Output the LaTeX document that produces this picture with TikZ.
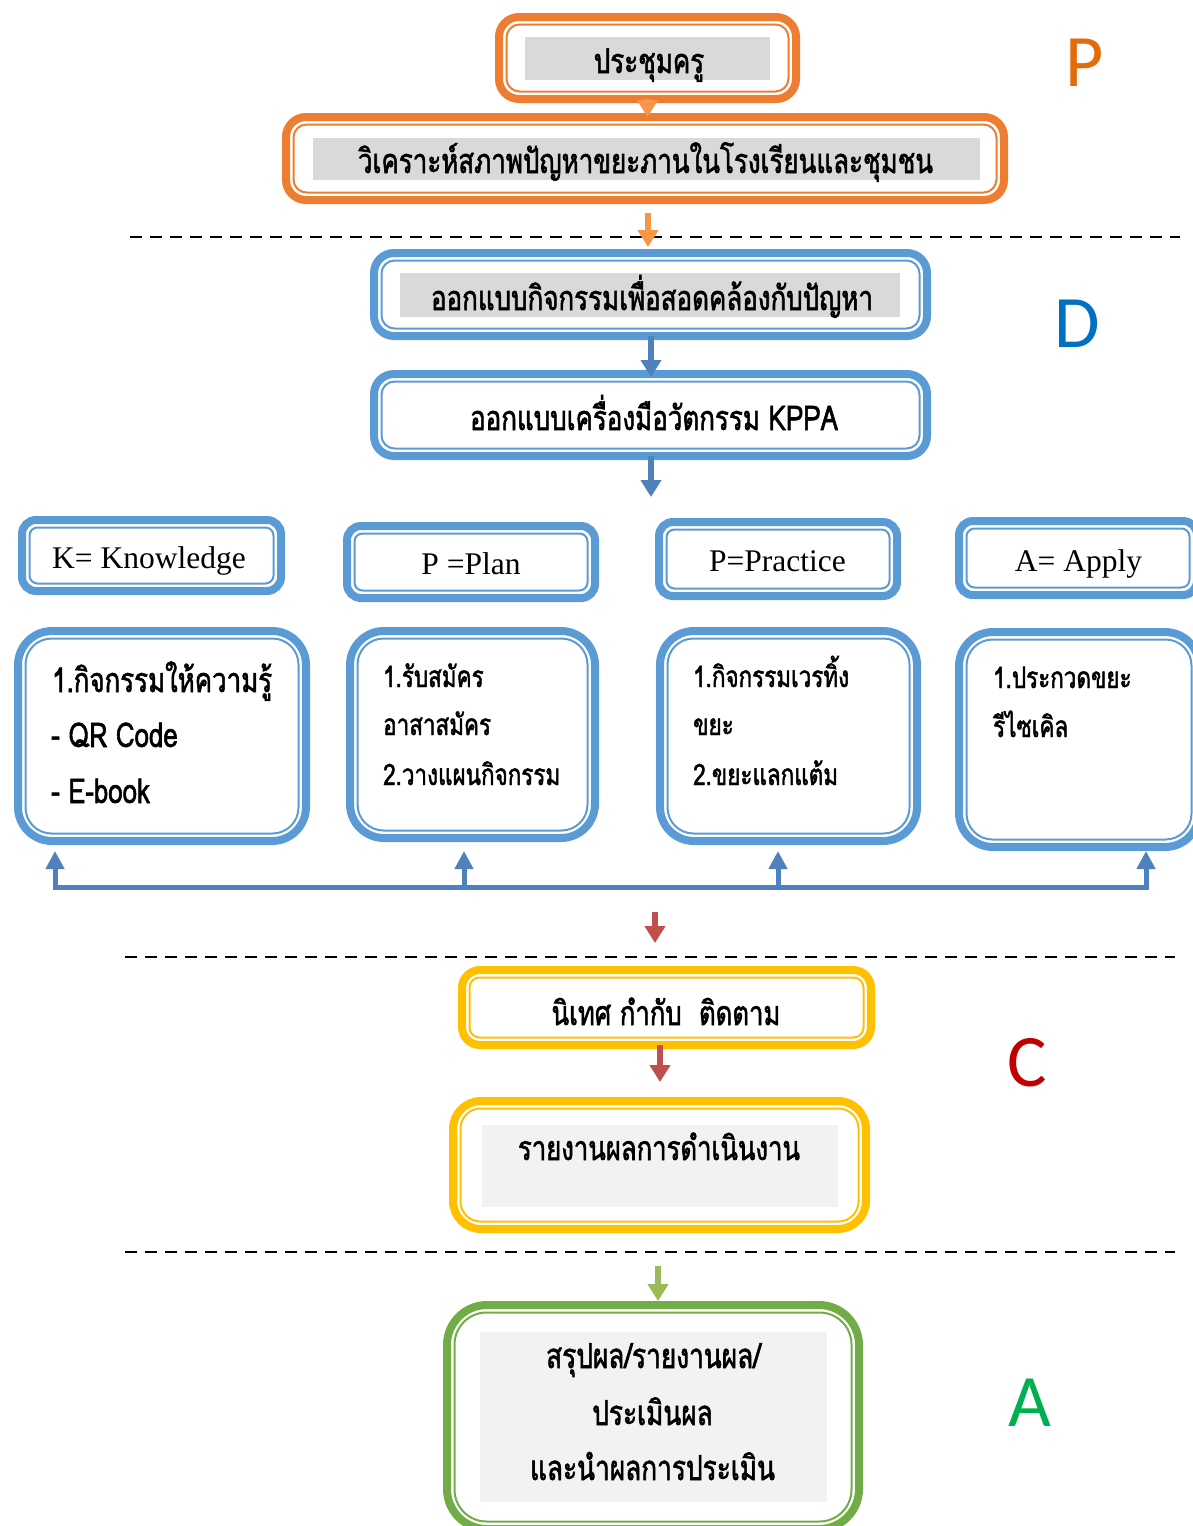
\documentclass[tikz,border=0pt]{standalone}
\usepackage{fontspec}
\usetikzlibrary{arrows.meta}
\newfontfamily\thaifont[Script=Thai,FakeStretch=0.76,FakeBold=1.6]{Loma}
\newfontfamily\serifhd{Liberation Serif}
\newfontfamily\calib{Carlito}
\definecolor{orB}{HTML}{ED7D31}
\definecolor{orA}{HTML}{F79646}
\definecolor{blB}{HTML}{5B9BD5}
\definecolor{blA}{HTML}{4F81BD}
\definecolor{rdA}{HTML}{C0504D}
\definecolor{yeB}{HTML}{FFC000}
\definecolor{grB}{HTML}{70AD47}
\definecolor{grA}{HTML}{9BBB59}
\definecolor{grayA}{HTML}{D9D9D9}
\definecolor{grayB}{HTML}{F2F2F2}
\definecolor{lP}{HTML}{E36C0A}
\definecolor{lD}{HTML}{0070C0}
\definecolor{lC}{HTML}{C00000}
\definecolor{lA}{HTML}{00B050}
\newlength\fitlen
\newcommand\setfit[3]{%
  \settowidth\fitlen{\thaifont\fontsize{20}{24}\selectfont #3}%
  \pgfmathsetmacro#1{20*#2/\fitlen}}
\tikzset{
  dbox/.style n args={3}{draw=#1, line width=8pt, rounded corners=#2, outer sep=0pt, inner sep=0pt,
    append after command={\pgfextra{\draw[draw=#1, line width=2pt, rounded corners=#3]
      ([shift={(7.5pt,-7.5pt)}]\tikzlastnode.north west) rectangle
      ([shift={(-7.5pt,7.5pt)}]\tikzlastnode.south east);}}},
  gbox/.style={fill=#1, draw=none, inner sep=0pt, outer sep=0pt},
  thaitxt/.style={font={\thaifont\fontsize{#1}{#1}\selectfont}, inner sep=0pt, anchor=base},
  thaileft/.style={font={\thaifont\fontsize{#1}{#1}\selectfont}, inner sep=0pt, anchor=base west},
  hdtxt/.style={font={\serifhd\fontsize{31.5}{31.5}\selectfont}, inner sep=0pt, anchor=base},
  bigletter/.style={font={\calib\fontsize{74}{74}\selectfont}, text=#1, inner sep=0pt, anchor=base},
  arr/.style={draw=#1, line width=6pt, -{Triangle[width=20pt,length=17pt]}},
  barr/.style={draw=blA, line width=5pt, -{Triangle[width=18pt,length=18pt]}},
  bline/.style={draw=blA, line width=5pt, line cap=rect},
  sep/.style={draw=black, line width=2.5pt, dash pattern=on 12pt off 8pt},
}
\begin{document}
\setfit\szTop{575}{วิเคราะห์สภาพปัญหาขยะภานในโรงเรียนและชุมชน}%
\setfit\szK{220}{1.กิจกรรมให้ความรู้}%
\setfit\szS{177}{2.วางแผนกิจกรรม}%
\setfit\szC{282}{รายงานผลการดำเนินงาน}%
\setfit\szA{245}{และนำผลการประเมิน}%
\begin{tikzpicture}[x=1pt,y=-1pt]
\useasboundingbox (0,0) rectangle (1193,1526);
\clip (0,0) rectangle (1193,1526);

% ---- P section
\node[dbox={orB}{20pt}{13pt}, minimum width=297pt, minimum height=82pt] (b1) at (647.5,58) {};
\node[gbox=grayA, minimum width=245pt, minimum height=43pt] (g1) at (647.5,58.5) {};
\node[thaitxt=\szTop] (t1) at (649,73) {ประชุมครู};

\node[dbox={orB}{20pt}{13pt}, minimum width=718pt, minimum height=83pt] (b2) at (645,158.5) {};
\node[gbox=grayA, minimum width=667pt, minimum height=42pt] (g2) at (646.5,159) {};
\node[thaitxt=\szTop] (t2) at (645.5,173) {วิเคราะห์สภาพปัญหาขยะภานในโรงเรียนและชุมชน};

\node[bigletter=lP] (lp) at (1085,86) {P};

\draw[sep] (130,237) -- (1180,237);

% ---- D section
\node[dbox={blB}{20pt}{13pt}, minimum width=553pt, minimum height=83pt] (b3) at (650.5,294.5) {};
\node[gbox=grayA, minimum width=500pt, minimum height=44pt] (g3) at (650,295) {};
\node[thaitxt=\szTop] (t3) at (652,310) {ออกแบบกิจกรรมเพื่อสอดคล้องกับปัญหา};

\node[dbox={blB}{20pt}{13pt}, minimum width=553pt, minimum height=82pt] (b4) at (650.5,415) {};
\node[thaitxt=\szTop] (t4) at (654,430) {ออกแบบเครื่องมือวัตกรรม KPPA};

\node[bigletter=lD] (ld) at (1077,347) {D};

% headers
\node[dbox={blB}{14pt}{8pt}, minimum width=259pt, minimum height=71pt] (hK) at (151.5,555.5) {};
\node[hdtxt] (thK) at (149,568) {K= Knowledge};
\node[dbox={blB}{14pt}{8pt}, minimum width=248pt, minimum height=72pt] (hP) at (471,562) {};
\node[hdtxt] (thP) at (471,574) {P =Plan};
\node[dbox={blB}{14pt}{8pt}, minimum width=238pt, minimum height=74pt] (hPr) at (778,559) {};
\node[hdtxt] (thPr) at (777.5,571) {P=Practice};
\node[dbox={blB}{14pt}{8pt}, minimum width=238pt, minimum height=74pt] (hA) at (1078,558) {};
\node[hdtxt] (thA) at (1078.5,571) {A= Apply};

% content boxes
\node[dbox={blB}{34pt}{26pt}, minimum width=288pt, minimum height=210pt] (cK) at (162,736) {};
\node[thaileft=\szK] (k1) at (52,692) {1.กิจกรรมให้ความรู้};
\node[thaileft=\szK] (k2) at (51,747) {- QR Code};
\node[thaileft=\szK] (k3) at (51,803) {- E-book};

\node[dbox={blB}{34pt}{26pt}, minimum width=245pt, minimum height=207pt] (cP) at (472.5,734.5) {};
\node[thaileft=\szS] (p1) at (383,687) {1.รับสมัคร};
\node[thaileft=\szS] (p2) at (383,735) {อาสาสมัคร};
\node[thaileft=\szS] (p3) at (383,785) {2.วางแผนกิจกรรม};

\node[dbox={blB}{34pt}{26pt}, minimum width=257pt, minimum height=210pt] (cPr) at (788.5,736) {};
\node[thaileft=\szS] (r1) at (693,687) {1.กิจกรรมเวรทิ้ง};
\node[thaileft=\szS] (r2) at (693,735) {ขยะ};
\node[thaileft=\szS] (r3) at (693,785) {2.ขยะแลกแต้ม};

\node[dbox={blB}{34pt}{26pt}, minimum width=240pt, minimum height=215pt] (cA) at (1079,739.5) {};
\node[thaileft=\szS] (a1) at (993,688) {1.ประกวดขยะ};
\node[thaileft=\szS] (a2) at (993,737) {รีไซเคิล};

% feedback connector
\coordinate (j1) at (55,887);
\coordinate (j2) at (464,887);
\coordinate (j3) at (778,887);
\coordinate (j4) at (1146,887);
\coordinate (u1) at (55,851);
\coordinate (u2) at (464,851);
\coordinate (u3) at (778,851);
\coordinate (u4) at (1146,851);
\draw[bline] (j1) -- (j4);
\foreach \i in {1,2,3,4}{\draw[barr, shorten <=-2.5pt] (j\i) -- (u\i);}

% ---- C section
\coordinate (rs) at (655,912);
\coordinate (re) at (655,943);
\draw[arr=rdA] (rs) -- (re);

\draw[sep] (125,957) -- (1175,957);

\node[dbox={yeB}{18pt}{10pt}, minimum width=409pt, minimum height=75pt] (c1) at (666.5,1007.5) {};
\node[thaitxt=\szC] (tc1) at (666,1025) {นิเทศ กำกับ~~ติดตาม};

\node[dbox={yeB}{28pt}{20pt}, minimum width=413pt, minimum height=128pt] (c2) at (659.5,1165) {};
\node[gbox=grayB, minimum width=356pt, minimum height=82pt] (gc2) at (660,1166) {};
\node[thaitxt=\szC] (tc2) at (659,1160) {รายงานผลการดำเนินงาน};

\coordinate (ce) at (660,1082);
\draw[arr=rdA] (ce |- c1.south) -- (ce);

\node[bigletter=lC] (lc) at (1027,1086) {C};

\draw[sep] (125,1252) -- (1175,1252);

% ---- A section
\node[dbox={grB}{40pt}{32pt}, minimum width=412pt, minimum height=224pt] (bA) at (653,1417) {};
\node[gbox=grayB, minimum width=347pt, minimum height=170pt] (gA) at (653.5,1417) {};
\node[thaitxt=\szA] (ta1) at (653.5,1368) {สรุปผล/รายงานผล/};
\node[thaitxt=\szA] (ta2) at (652.5,1425) {ประเมินผล};
\node[thaitxt=\szA] (ta3) at (652.5,1480) {และนำผลการประเมิน};

\coordinate (gs) at (658,1266);
\draw[arr=grA, shorten >=4pt] (gs) -- (gs |- bA.north);

\node[bigletter=lA] (la) at (1030,1426) {A};

% ---- arrows of upper part
\draw[arr=orA, line width=5pt] (b1.south) -- (b1.south |- b2.north);
\draw[arr=orA, shorten <=13pt, shorten >=6pt] (648,200) -- (648,253);
\draw[arr=blA] (651,336) -- (651,377);
\coordinate (d4) at (651,497);
\draw[arr=blA] (d4 |- b4.south) -- (d4);
\end{tikzpicture}
\end{document}
